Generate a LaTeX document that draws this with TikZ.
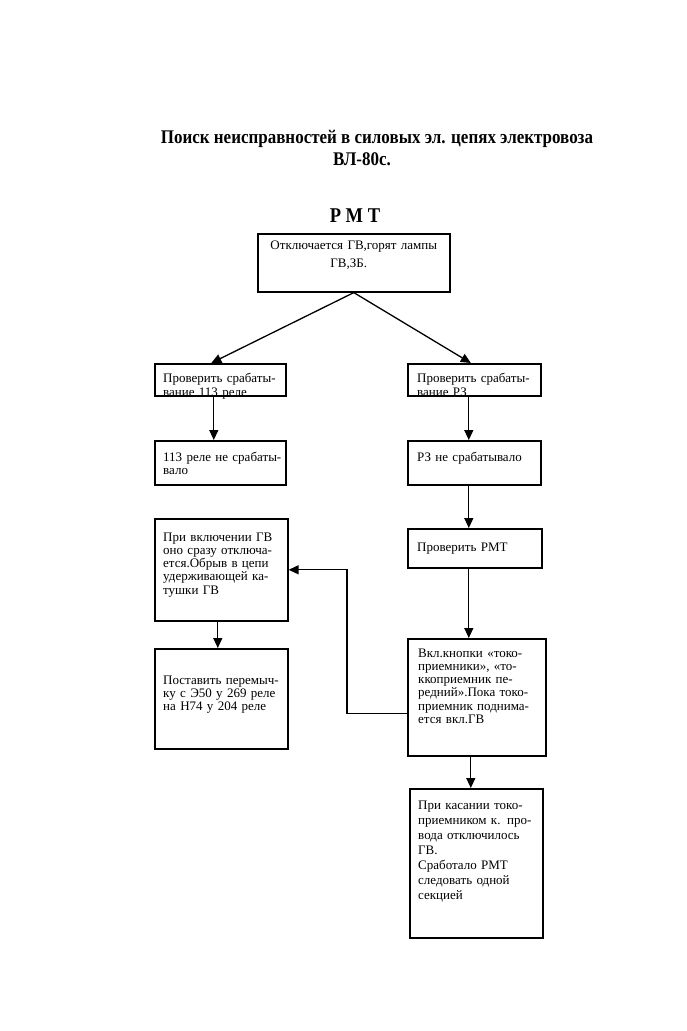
\documentclass[tikz,border=0pt]{standalone}
\usepackage{fontspec}
\setmainfont{Liberation Serif}
\newfontfamily\ttlfont{Liberation Serif}[FakeStretch=0.88]
\usetikzlibrary{arrows.meta}
\begin{document}
\begin{tikzpicture}[x=1pt,y=-1pt,
  box/.style={draw, line width=1.6pt, inner sep=0pt, anchor=north west},
  txt/.style={anchor=base west, inner sep=0pt, text width=132pt, align=left, font=\fontsize{13}{13.3}\selectfont},
  conn/.style={line width=1.3pt, -{Triangle[length=10pt,width=9pt]}},
  ttl/.style={anchor=base, inner sep=0pt, font=\ttlfont\fontsize{19.3}{22}\selectfont\bfseries}
  ]
\useasboundingbox[fill=white] (0,0) rectangle (686,1031);
% titles
\node[ttl] (title1) at (377,143) {Поиск неисправностей в силовых эл. цепях электровоза};
\node[ttl] (title2) at (362,165) {ВЛ-80с.};
\node[ttl, font=\ttlfont\fontsize{21}{24}\selectfont\bfseries] (rmt) at (355,222) {Р М Т};
% boxes
\node[box, minimum width=192pt, minimum height=58pt] (top) at (257,233) {};
\node[box, minimum width=131pt, minimum height=32pt] (l1) at (154,363) {};
\node[box, minimum width=133pt, minimum height=32pt] (r1) at (407,363) {};
\node[box, minimum width=131pt, minimum height=44pt] (l2) at (154,440) {};
\node[box, minimum width=133pt, minimum height=44pt] (r2) at (407,440) {};
\node[box, minimum width=133pt, minimum height=102pt] (l3) at (154,518) {};
\node[box, minimum width=134pt, minimum height=39pt] (r3) at (407,528) {};
\node[box, minimum width=133pt, minimum height=100pt] (l4) at (154,648) {};
\node[box, minimum width=138pt, minimum height=117pt] (r4) at (407,638) {};
\node[box, minimum width=133pt, minimum height=149pt] (r5) at (409,788) {};
% texts
\node[anchor=base, inner sep=0pt, text width=190pt, align=center, font=\fontsize{13}{18}\selectfont] (ttop) at ([yshift=-16pt]top.north) {Отключается ГВ,горят лампы\\\hspace*{-10pt}ГВ,ЗБ.};
\node[txt, font=\fontsize{13}{14}\selectfont] (tl1) at ([shift={(9,19)}]l1.north west) {Проверить срабаты-\\вание 113 реле};
\node[txt, font=\fontsize{13}{14}\selectfont] (tr1) at ([shift={(10,19)}]r1.north west) {Проверить срабаты-\\вание РЗ};
\node[txt] (tl2) at ([shift={(9,21)}]l2.north west) {113 реле не срабаты-\\вало};
\node[txt] (tr2) at ([shift={(10,21)}]r2.north west) {РЗ не срабатывало};
\node[txt] (tl3) at ([shift={(9,23)}]l3.north west) {При включении ГВ\\оно сразу отключа-\\ется.Обрыв в цепи\\удерживающей ка-\\тушки ГВ};
\node[txt] (tr3) at ([shift={(10,23)}]r3.north west) {Проверить РМТ};
\node[txt] (tl4) at ([shift={(9,36)}]l4.north west) {Поставить перемыч-\\ку с Э50 у 269 реле\\на Н74 у 204 реле};
\node[txt] (tr4) at ([shift={(11,19)}]r4.north west) {Вкл.кнопки «токо-\\приемники», «то-\\ккоприемник пе-\\редний».Пока токо-\\приемник поднима-\\ется вкл.ГВ};
\node[txt, font=\fontsize{13}{15}\selectfont] (tr5) at ([shift={(9,21)}]r5.north west) {При касании токо-\\приемником к. про-\\вода отключилось\\ГВ.\\Сработало РМТ\\следовать одной\\секцией};
% connectors
\draw[conn] (top.south) -- ([xshift=-9pt]l1.north);
\draw[conn] (top.south) -- ([xshift=-3.5pt]r1.north);
\draw[conn] ([xshift=-6.5pt]l1.south) -- ([xshift=-6.5pt]l2.north);
\draw[conn] ([xshift=-5.5pt]r1.south) -- ([xshift=-5.5pt]r2.north);
\draw[conn] ([xshift=-5.5pt]r2.south) -- ([xshift=-6pt]r3.north);
\draw[conn] ([xshift=-6pt]r3.south) -- ([xshift=-8pt]r4.north);
\draw[conn] ([xshift=-6pt]r4.south) -- ([xshift=-5.5pt]r5.north);
\draw[conn] ([xshift=-3.5pt]l3.south) -- ([xshift=-3.5pt]l4.north);
\draw[conn] ([yshift=-16.5pt]r4.west) -- ++(-60,0) |- (l3.east);
\end{tikzpicture}
\end{document}
